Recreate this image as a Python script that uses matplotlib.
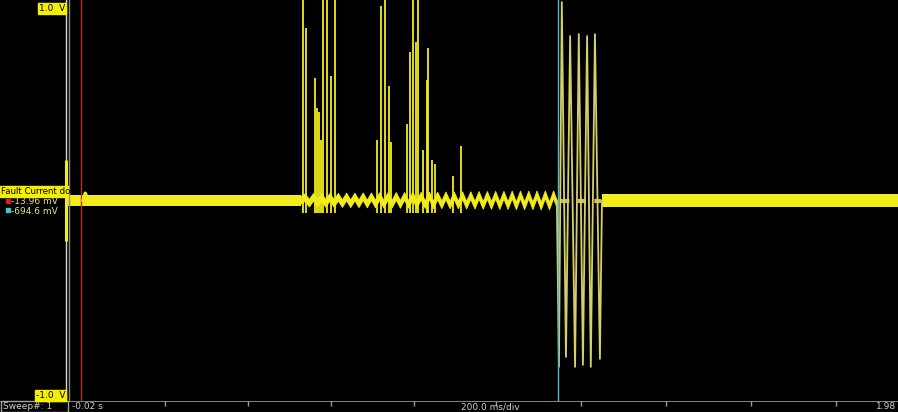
import numpy as np
import matplotlib.pyplot as plt
from matplotlib.patches import Rectangle

# time in s, voltage in V
t_min, t_max = -0.189, 1.98
v_min, v_max = -1.0, 1.0

# flat noisy baseline band: start, end, upper edge, lower edge
band_segments = [(-0.024, 0.537, 0.026, -0.028),
                 (1.265, 1.98, 0.030, -0.032)]
bump_t = [0.010, 0.016, 0.019, 0.024]
bump_v = [0.0, 0.040, 0.036, 0.0]

# ripple section before the fault
ripple_start = 0.537
ripple_half_period = 0.01
ripple_amp = [0.014, 0.015, 0.015, 0.016, 0.016, 0.017, 0.017, 0.018,
              0.018, 0.019, 0.019, 0.020, 0.020, 0.021, 0.021, 0.022,
              0.022, 0.023, 0.023, 0.024, 0.024, 0.025, 0.025, 0.026,
              0.026, 0.027, 0.027, 0.027, 0.028, 0.028, 0.028]
ripple_offset = 0.003
ripple_thick = 0.019

# partial-discharge spikes (time, peak voltage)
spike_t = [0.543, 0.550, 0.572, 0.576, 0.581, 0.586, 0.591, 0.601, 0.610,
           0.620, 0.721, 0.731, 0.741, 0.750, 0.755, 0.794, 0.801, 0.808,
           0.816, 0.820, 0.833, 0.842, 0.845, 0.854, 0.861, 0.905, 0.924]
spike_v = [1.20, 0.86, 0.61, 0.46, 0.44, 0.30, 1.20, 1.20, 0.62,
           1.20, 0.30, 0.97, 1.20, 0.57, 0.29, 0.38, 0.74, 1.20,
           0.79, 1.20, 0.25, 0.60, 0.76, 0.20, 0.18, 0.12, 0.27]

# large fault oscillation
osc_t = [1.156, 1.161, 1.168, 1.178, 1.188, 1.200, 1.209, 1.219,
         1.229, 1.238, 1.248, 1.260, 1.265]
osc_v = [0.0, -0.83, 0.99, -0.78, 0.82, -0.83, 0.83, -0.82,
         0.82, -0.83, 0.83, -0.79, 0.0]

# cursors and markers
red_cursor = 0.0066
cyan_cursor = 1.1588
left_lines = [-0.0297, -0.0225]
tick_t = [0.21, 0.41, 0.61, 0.81, 1.01, 1.215, 1.42, 1.625, 1.83]

trace = '#f2ec1a'

fig = plt.figure(figsize=(8.98, 4.12), dpi=100, facecolor='black')
ax = fig.add_axes([0, 11 / 412, 1, 401 / 412])
ax.set_facecolor('black')
ax.set_xlim(t_min, t_max)
ax.set_ylim(v_min, v_max)
ax.axis('off')

# cursors
ax.axvline(left_lines[0], color='#d8d8c8', lw=1.0)
ax.axvline(left_lines[1], color='#8a8a8a', lw=1.0)
ax.vlines(left_lines[0], -0.2, 0.2, color=trace, lw=2.2)
ax.axvline(red_cursor, color='#b0341f', lw=1.0)

# baseline bands
for t0, t1, up, lo in band_segments:
    ax.fill_between([t0, t1], [up, up], [lo, lo], color=trace, lw=0)
ax.plot(bump_t, bump_v, color=trace, lw=1.5)

# ripple, drawn as a thick zigzag band
n = len(ripple_amp)
zig_t = ripple_start + np.arange(2 * n + 1) * ripple_half_period
zig_v = [ripple_offset]
for a in ripple_amp:
    zig_v += [ripple_offset + a, ripple_offset - a]
zig_v = np.array(zig_v)
ax.fill_between(zig_t, zig_v + ripple_thick, zig_v - ripple_thick,
                color=trace, lw=0.6, edgecolor=trace)

# spikes
ax.vlines(spike_t, -0.06, spike_v, color=trace, lw=1.3)

# fault oscillation
ax.hlines(0.0, 1.165, 1.262, color='#c8c050', lw=3, linestyles=(0, (2, 2)))
ax.plot(osc_t, osc_v, color='#d6d06a', lw=1.3)
ax.axvline(cyan_cursor, color='#5ab8cc', lw=1.0)

# bottom bar
bx = fig.add_axes([0, 0, 1, 11 / 412])
bx.set_facecolor('black')
bx.set_xlim(t_min, t_max)
bx.set_ylim(0, 1)
bx.axis('off')
bx.axhline(1.0, color='#9a9a9a', lw=1.2)
bx.vlines(tick_t, 0.55, 1.0, color='#9a9a9a', lw=1.0)

txt = dict(fontsize=6.5, family='DejaVu Sans')
fig.patches.append(Rectangle((0.5 / 898, 0.5 / 412), 67 / 898, 10.5 / 412,
                             fill=False, edgecolor='#a0a0a0', lw=1.0,
                             transform=fig.transFigure))
fig.text(3 / 898, 5.5 / 412, 'Sweep#: 1', color='#d0d0d0', va='center', **txt)
fig.text(72 / 898, 5.5 / 412, '-0.02 s', color='#d0d0d0', va='center', **txt)
fig.text(490 / 898, 5.5 / 412, '200.0 ms/div', color='#d0d0d0',
         va='center', ha='center', **txt)
fig.text(896 / 898, 5.5 / 412, '1.98', color='#d0d0d0', va='center',
         ha='right', **txt)

# channel labels
lab_yellow = '#f4f000'
for y_top, w, s in [(3, 28, '1.0  V'), (390, 31, '-1.0  V')]:
    fig.patches.append(Rectangle(((66 - w) / 898, 1 - (y_top + 11) / 412),
                                 w / 898, 11 / 412, color=lab_yellow,
                                 transform=fig.transFigure))
    fig.text(65 / 898, 1 - (y_top + 5.5) / 412, s, color='black',
             ha='right', va='center', **txt)

fig.patches.append(Rectangle((0, 1 - 197 / 412), 68 / 898, 11 / 412,
                             color=lab_yellow, transform=fig.transFigure))
fig.text(1 / 898, 1 - 191.5 / 412, 'Fault Current do', color='black',
         va='center', fontsize=6.2, family='DejaVu Sans')
fig.patches.append(Rectangle((6 / 898, 1 - 203 / 412), 4 / 898, 4 / 412,
                             color='#d02020', transform=fig.transFigure))
fig.text(11 / 898, 1 - 202 / 412, '-13.96 mV', color='#e8e27a',
         va='center', **txt)
fig.patches.append(Rectangle((6 / 898, 1 - 212 / 412), 4 / 898, 4 / 412,
                             color='#40c8c8', transform=fig.transFigure))
fig.text(11 / 898, 1 - 212 / 412, '-694.6 mV', color='#e8e27a',
         va='center', **txt)

fig.savefig('out.png', dpi=100, facecolor='black')
